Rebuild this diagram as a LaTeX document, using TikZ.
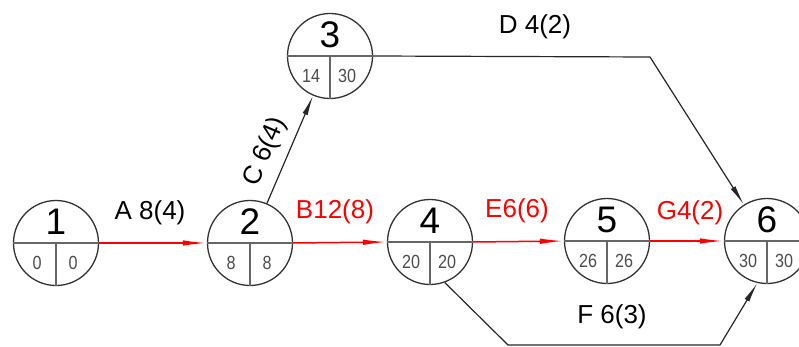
\documentclass[tikz,border=0pt]{standalone}
\usepackage{fontspec}
\setmainfont{Liberation Sans}
\usetikzlibrary{arrows.meta}
\tikzset{
  ev/.style={circle, draw=black!80, line width=1.3pt, minimum size=85pt, inner sep=0pt},
  div/.style={draw=black!60, line width=1.2pt},
  crit/.style={draw=red, line width=1.5pt, -{Latex[length=24pt,width=5.5pt]}},
  norm/.style={draw=black!85, line width=1.2pt, -{Latex[length=20pt,width=5.5pt]}},
  num/.style={font=\fontsize{37}{37}\selectfont, inner sep=0pt},
  tm/.style={font=\fontsize{19}{19}\selectfont, text=black!70, inner sep=0pt, xscale=0.85},
  lab/.style={font=\fontsize{26}{26}\selectfont, inner sep=0pt},
  crlab/.style={lab, text=red},
}
\newcommand\evnode[6]{%
  \node[ev] (#1) at (#2,#3) {};
  \draw[div] (#1.west) -- (#1.east);
  \draw[div] (#1.center) -- (#1.south);
  \node[num] (#1num) at (#2,{#3-21}) {#4};
  \node[tm] (#1l) at ({#2-19},{#3+20}) {#5};
  \node[tm] (#1r) at ({#2+17},{#3+20}) {#6};
}
\begin{document}
\begin{tikzpicture}[x=1pt,y=-1pt]
\useasboundingbox (0,0) rectangle (799,347);
\evnode{n1}{56}{243}{1}{0}{0}
\evnode{n2}{250}{243}{2}{8}{8}
\evnode{n3}{330}{56}{3}{14}{30}
\evnode{n4}{430}{242}{4}{20}{20}
\evnode{n5}{607}{241}{5}{26}{26}
\evnode{n6}{767}{241}{6}{30}{30}
\coordinate (d1) at (650,57);
\coordinate (f1) at (508,345);
\coordinate (f2) at (720,345);
% critical path
\draw[crit] (n1.east) -- (n2.west);
\draw[crit] (n2.east) -- (n4.west);
\draw[crit] (n4.east) -- (n5.west);
\draw[crit] (n5.east) -- (n6.west);
% other activities
\draw[norm] (n2) -- node[lab, sloped, above=9pt, pos=0.4] (lc) {C 6(4)} (n3);
\draw[norm] (n3.east) -- (d1) -- (n6);
\draw[norm] (n4.-70) -- (f1) -- (f2) -- (n6.-103);
% labels
\node[lab] (la) at (150,213) {A 8(4)};
\node[crlab] (lb) at (335,212) {B12(8)};
\node[crlab] (le) at (517,211) {E6(6)};
\node[crlab] (lg) at (690,213) {G4(2)};
\node[lab] (ld) at (535,27) {D 4(2)};
\node[lab] (lf) at (612,317) {F 6(3)};
\end{tikzpicture}
\end{document}
